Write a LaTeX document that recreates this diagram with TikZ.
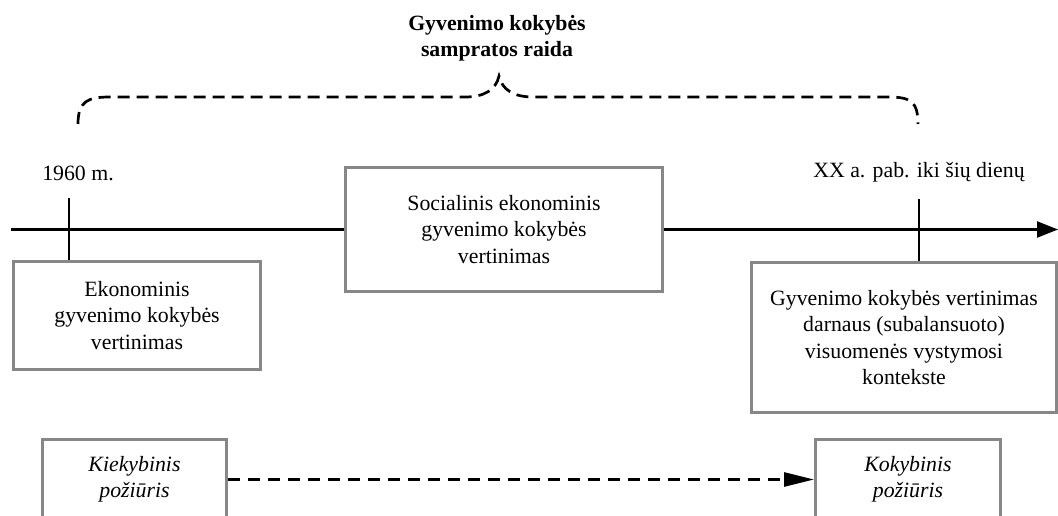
\documentclass[tikz,border=0pt]{standalone}
\usepackage{fontspec}
\setmainfont{Liberation Serif}
\usetikzlibrary{arrows.meta}
\definecolor{boxgray}{RGB}{135,135,135}
\tikzset{
  txt/.style={font=\fontsize{21.8pt}{26.5pt}\selectfont, align=center, inner sep=0pt},
  gbox/.style={txt, draw=boxgray, line width=3pt, fill=white},
  tline/.style={line width=2.2pt, black},
  bracedash/.style={line width=2.7pt, dash pattern=on 12pt off 7pt, line cap=butt},
  arrdash/.style={line width=2.6pt, dash pattern=on 12pt off 8pt,
    -{Triangle[length=30pt,width=14pt]}}
}
\begin{document}
\begin{tikzpicture}[x=1pt,y=-1pt]
\useasboundingbox (0,0) rectangle (1058,516);
\clip (0,0) rectangle (1058,516);

% title
\node[txt, font=\fontsize{21.8pt}{26pt}\selectfont\bfseries] (title) at (497,38)
  {Gyvenimo kokybės\\sampratos raida};

% brace
\coordinate (bl) at (78,124);
\coordinate (peak) at (499,76);
\coordinate (br) at (918,124);
\draw[bracedash] (bl) .. controls (78,101) and (88,97) .. (110,97) -- (465,97)
  .. controls (484,97) and (496,90) .. (peak)
  .. controls (502,90) and (514,97) .. (533,97) -- (888,97)
  .. controls (910,97) and (918,101) .. (br);

% date labels
\node[txt, anchor=base] (d1960) at (78,181) {1960 m.};
\node[txt, anchor=base] (dxx) at (919,178) {XX a. pab. iki šių dienų};

% boxes
\node[gbox, minimum width=247pt, minimum height=108pt] (ekon) at (137,315.5)
  {Ekonominis\\gyvenimo kokybės\\vertinimas};
\node[gbox, minimum width=317pt, minimum height=124pt] (mid) at (504,229.5)
  {Socialinis ekonominis\\gyvenimo kokybės\\vertinimas};
\node[gbox, minimum width=305pt, minimum height=150pt] (rbox) at (904,337.5)
  {Gyvenimo kokybės vertinimas\\darnaus (subalansuoto)\\visuomenės vystymosi\\kontekste};

% timeline
\coordinate (tlstart) at (11,229.5);
\coordinate (tlend) at (1058,229.5);
\draw[tline] (tlstart) -- (mid.west);
\draw[tline, -{Triangle[length=21pt,width=16pt]}] (mid.east) -- (tlend);

% ticks
\coordinate (tk1) at (69,198);
\coordinate (tk2) at (919,199);
\draw[tline] (tk1) -- (tk1 |- ekon.north);
\draw[tline] (tk2) -- (tk2 |- rbox.north);

% bottom boxes
\node[gbox, font=\fontsize{21.8pt}{26.5pt}\selectfont\itshape,
  minimum width=184pt, minimum height=81pt] (kiek) at (134.5,479.5)
  {Kiekybinis\\požiūris};
\node[gbox, font=\fontsize{21.8pt}{26.5pt}\selectfont\itshape,
  minimum width=185pt, minimum height=81pt] (koky) at (908,479.5)
  {Kokybinis\\požiūris};
\draw[arrdash] (kiek.east) -- (koky.west);
\end{tikzpicture}
\end{document}
